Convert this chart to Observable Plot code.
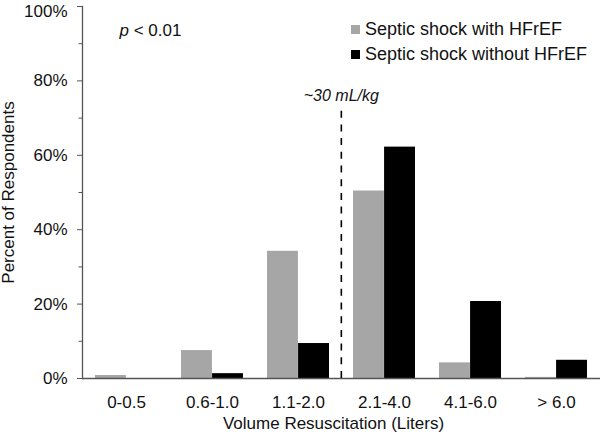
<!DOCTYPE html>
<html><head><meta charset="utf-8">
<script src="https://cdn.jsdelivr.net/npm/d3@7"></script>
<script src="https://cdn.jsdelivr.net/npm/@observablehq/plot@0.6"></script>
<style>
body{margin:0;background:#fff;}
#chart{position:relative;width:600px;height:434px;font-family:"Liberation Sans",Arial,sans-serif;color:#111;}
#chart svg{display:block;}
#legend{position:absolute;left:351px;top:17px;}
#legend .lg-swatch{height:25px;margin:0 !important;padding:0 !important;display:flex;align-items:center;}
#legend .lg-swatch svg{margin-right:5px !important;}
#legend, #legend *{font-size:18px;font-family:"Liberation Sans",Arial,sans-serif;color:#111;}
</style></head><body><div id="chart"></div>
<script>
const categories = ["0-0.5", "0.6-1.0", "1.1-2.0", "2.1-4.0", "4.1-6.0", "> 6.0"];
const seriesNames = ["Septic shock with HFrEF", "Septic shock without HFrEF"];
const withHFrEF = [0.8, 7.5, 34.2, 50.4, 4.2, 0.3];
const withoutHFrEF = [0, 1.3, 9.4, 62.2, 20.7, 4.9];
const yTicks = [0, 20, 40, 60, 80, 100];
const yMinorTicks = [10, 30, 50, 70, 90];
const seriesColors = ["#a6a6a6", "#000000"];
const pValueText = "p < 0.01";
const cutoffLabel = "~30 mL/kg";
const cutoffCategory = "2.1-4.0";
const cutoffTop = 72;
const cutoffLabelY = 74.5;
const xLabel = "Volume Resuscitation (Liters)";
const yLabel = "Percent of Respondents";

const W = 600, H = 434, ML = 82, MR = 0, MT = 6, MB = 56;
const padInner = 0.28, padOuter = 0.14;
const step = (W - ML - MR) / (categories.length - padInner + 2 * padOuter);
const bandwidth = step * (1 - padInner);

const rows = [];
categories.forEach((c, i) => {
  rows.push({category: c, series: seriesNames[0], value: withHFrEF[i]});
  rows.push({category: c, series: seriesNames[1], value: withoutHFrEF[i]});
});

const fmtPct = d => d + "%";
const font = "'Liberation Sans', Arial, sans-serif";
const plot = Plot.plot({
  width: W, height: H,
  marginLeft: ML, marginRight: MR, marginTop: MT, marginBottom: MB,
  style: {fontFamily: font, background: "#fff", color: "#111"},
  x: {domain: categories, paddingInner: padInner, paddingOuter: padOuter, axis: null},
  y: {domain: [0, 100], axis: null},
  color: {domain: seriesNames, range: seriesColors},
  marks: [
    Plot.barY(rows.filter(d => d.series === seriesNames[0]), {x: "category", y: "value", fill: "series", insetLeft: 0, insetRight: bandwidth / 2}),
    Plot.barY(rows.filter(d => d.series === seriesNames[1]), {x: "category", y: "value", fill: "series", insetLeft: bandwidth / 2, insetRight: 0}),
    Plot.ruleY([0], {stroke: "#555", strokeWidth: 1.3}),
    Plot.frame({anchor: "left", stroke: "#555", strokeWidth: 1.3}),
    Plot.axisY(yTicks, {tickSize: 5, tickPadding: 10, tickFormat: fmtPct, fontSize: 17, stroke: "#555", fill: "#111",
      label: yLabel, labelAnchor: "center", labelOffset: 81, labelArrow: false}),
    Plot.axisY(yMinorTicks, {tickSize: 3.5, tickFormat: () => "", stroke: "#555", label: null}),
    Plot.axisX({tickSize: 0, tickPadding: 17, fontSize: 17, fill: "#111", label: null}),
    Plot.text([xLabel], {frameAnchor: "bottom", text: d => d, dx: -8, dy: 50, lineAnchor: "bottom", fontSize: 17, fill: "#111"}),
    Plot.ruleX([cutoffCategory], {x: d => d, y1: 0, y2: cutoffTop, dx: -step / 2, stroke: "#000", strokeWidth: 1.6, strokeDasharray: "7,6.7"}),
    Plot.text([cutoffLabel], {x: () => cutoffCategory, y: () => cutoffLabelY, text: d => d, dx: -step / 2, lineAnchor: "bottom", fontSize: 16, fontStyle: "italic", fill: "#111"}),
    Plot.text([pValueText], {frameAnchor: "top-left", text: d => d, textAnchor: "start", lineAnchor: "top", dx: 37, dy: 17, fontSize: 17, fill: "#111"})
  ]
});

const chart = document.getElementById("chart");
chart.appendChild(plot);

// italic "p" in the p-value annotation
d3.select(plot).selectAll("text").filter(function() { return this.textContent === pValueText; })
  .each(function() {
    const t = d3.select(this);
    t.text(null);
    t.append("tspan").attr("font-style", "italic").text("p");
    t.append("tspan").text(pValueText.slice(1));
  });

// keep the top tick label inside the picture
const topLabel = fmtPct(yTicks[yTicks.length - 1]);
d3.select(plot).selectAll("text").filter(function() { return this.textContent === topLabel; })
  .attr("dy", function() { return (parseFloat(d3.select(this).attr("dy")) || 0) + 5; });

const legend = plot.legend("color", {columns: 1, swatchSize: 9, className: "lg"});
const wrap = document.createElement("div");
wrap.id = "legend";
wrap.appendChild(legend);
chart.appendChild(wrap);
</script></body></html>
